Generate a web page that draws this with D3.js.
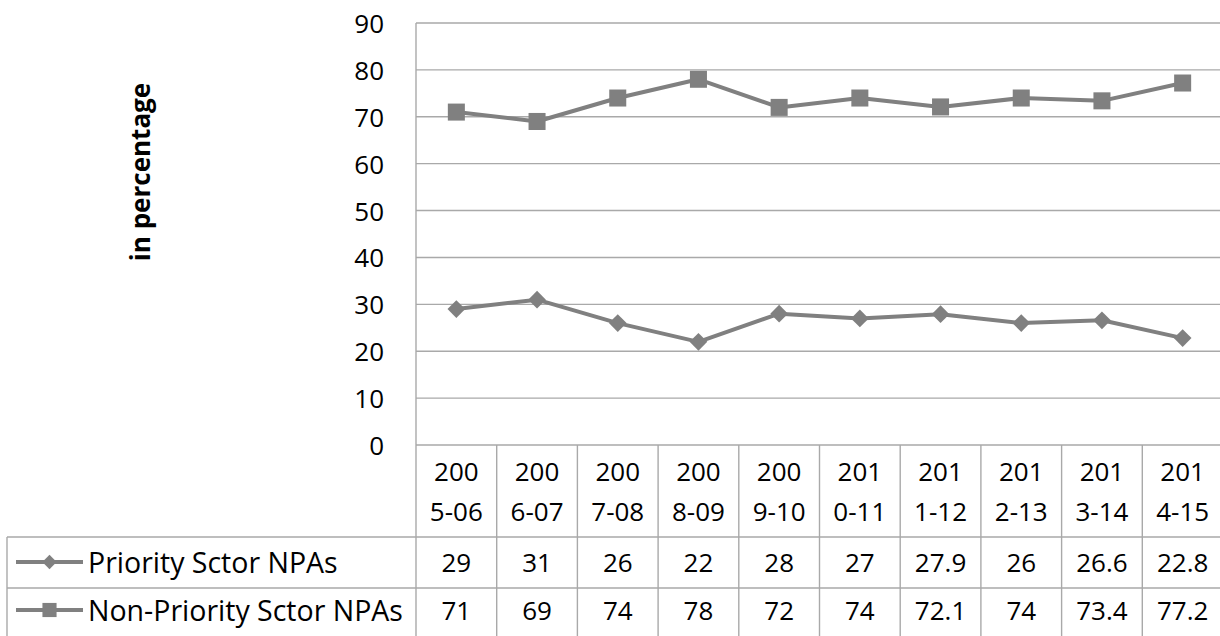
<!DOCTYPE html>
<html>
<head>
<meta charset="utf-8">
<script src="https://cdn.jsdelivr.net/npm/d3@7"></script>
<style>
  html, body { margin: 0; padding: 0; background: #fff; }
  svg { display: block; }
  text { font-family: "Open Sans", Lato, sans-serif; fill: #000; }
</style>
</head>
<body>
<svg id="chart" width="1220" height="636"></svg>
<script>
const categories = ["2005-06","2006-07","2007-08","2008-09","2009-10","2010-11","2011-12","2012-13","2013-14","2014-15"];
const priorityValues = [29, 31, 26, 22, 28, 27, 27.9, 26, 26.6, 22.8];
const nonPriorityValues = [71, 69, 74, 78, 72, 74, 72.1, 74, 73.4, 77.2];
const seriesNames = ["Priority Sctor NPAs", "Non-Priority Sctor NPAs"];
const yTicks = [0, 10, 20, 30, 40, 50, 60, 70, 80, 90];
const yTitle = "in percentage";

(function () {
const series = [
  { name: seriesNames[0], values: priorityValues, symbol: d3.symbolDiamond2 },
  { name: seriesNames[1], values: nonPriorityValues, symbol: d3.symbolSquare }
];

const svg = d3.select("#chart");
const pLeft = 416, pRight = 1223, pTop = 23, pBottom = 445;
const headerBottom = 537, row1Bottom = 588, row2Bottom = 639;
const tableLeft = 7;
const gridColor = "#a9a9a9";
const lineColor = "#808080";
const numSize = 26, labelSize = 28.5;

const x = d3.scaleBand().domain(categories).range([pLeft, pRight]);
const y = d3.scaleLinear().domain([0, 90]).range([pBottom, pTop]);

svg.append("g").selectAll("line").data(yTicks).join("line")
  .attr("x1", pLeft).attr("x2", pRight)
  .attr("y1", d => y(d)).attr("y2", d => y(d))
  .attr("stroke", gridColor).attr("stroke-width", 1.4);

svg.append("g").selectAll("text").data(yTicks).join("text")
  .attr("x", 384).attr("y", d => y(d))
  .attr("text-anchor", "end").attr("dominant-baseline", "central")
  .attr("font-size", numSize)
  .text(d => d);

svg.append("text")
  .attr("transform", "translate(140,172) rotate(-90)")
  .attr("text-anchor", "middle").attr("dominant-baseline", "central")
  .attr("font-size", 26).attr("font-weight", "bold")
  .text(yTitle);

const bounds = categories.map(c => x(c)).concat([pRight]);
svg.append("g").selectAll("line").data(bounds).join("line")
  .attr("x1", d => d).attr("x2", d => d)
  .attr("y1", (d, i) => i === 0 ? pTop : pBottom).attr("y2", row2Bottom)
  .attr("stroke", gridColor).attr("stroke-width", 1.4);
svg.append("line").attr("x1", tableLeft).attr("x2", tableLeft)
  .attr("y1", headerBottom).attr("y2", row2Bottom)
  .attr("stroke", gridColor).attr("stroke-width", 1.4);
svg.append("g").selectAll("line").data([headerBottom, row1Bottom, row2Bottom]).join("line")
  .attr("x1", tableLeft).attr("x2", pRight)
  .attr("y1", d => d).attr("y2", d => d)
  .attr("stroke", gridColor).attr("stroke-width", 1.4);

const hdr = svg.append("g").selectAll("text").data(categories).join("text")
  .attr("text-anchor", "middle").attr("font-size", numSize);
hdr.append("tspan").attr("x", d => x(d) + x.bandwidth() / 2).attr("y", 471)
  .attr("dominant-baseline", "central").text(d => d.slice(0, 3));
hdr.append("tspan").attr("x", d => x(d) + x.bandwidth() / 2).attr("y", 511)
  .attr("dominant-baseline", "central").text(d => d.slice(3));

const rowY = [562, 610];
series.forEach((s, si) => {
  const ry = rowY[si];
  svg.append("g").selectAll("text").data(s.values).join("text")
    .attr("x", (d, i) => x(categories[i]) + x.bandwidth() / 2)
    .attr("y", ry).attr("text-anchor", "middle").attr("dominant-baseline", "central")
    .attr("font-size", numSize).text(d => d);
  svg.append("line").attr("x1", 16).attr("x2", 83).attr("y1", ry).attr("y2", ry)
    .attr("stroke", lineColor).attr("stroke-width", 4);
  svg.append("path").attr("d", d3.symbol().type(s.symbol).size(si === 0 ? 130 : 200)())
    .attr("transform", `translate(49.5,${ry})`).attr("fill", lineColor);
  svg.append("text").attr("x", 88).attr("y", ry).attr("dominant-baseline", "central")
    .attr("font-size", labelSize).text(s.name);

  const line = d3.line().x((d, i) => x(categories[i]) + x.bandwidth() / 2).y(d => y(d));
  svg.append("path").datum(s.values).attr("d", line)
    .attr("fill", "none").attr("stroke", lineColor).attr("stroke-width", 4)
    .attr("stroke-linejoin", "round");
  svg.append("g").selectAll("path").data(s.values).join("path")
    .attr("d", d3.symbol().type(s.symbol).size(si === 0 ? 200 : 290)())
    .attr("transform", (d, i) => `translate(${x(categories[i]) + x.bandwidth() / 2},${y(d)})`)
    .attr("fill", lineColor);
});
})();
</script>
</body>
</html>
